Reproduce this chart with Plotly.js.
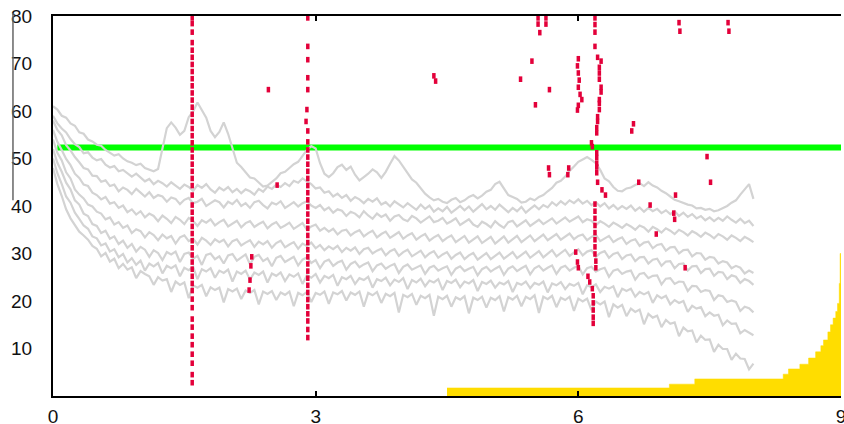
<!DOCTYPE html>
<html>
<head>
<meta charset="utf-8">
<script src="https://cdn.plot.ly/plotly-3.0.1.min.js"></script>
<style>html,body{margin:0;padding:0;background:#fff;}#chart{width:844px;height:424px;}</style>
</head>
<body>
<div id="chart"></div>
<script>
// ---- data ----
var sampleX = [0,0.05,0.1,0.15,0.2,0.25,0.3,0.35,0.4,0.45,0.5,0.55,0.6,0.65,0.7,0.75,0.8,0.85,0.9,0.95,
 1,1.05,1.1,1.15,1.2,1.25,1.3,1.35,1.4,1.45,1.5,1.55,1.6,1.65,1.7,1.75,1.8,1.85,1.9,1.95,
 2,2.05,2.1,2.15,2.2,2.25,2.3,2.35,2.4,2.45,2.5,2.55,2.6,2.65,2.7,2.75,2.8,2.85,2.9,2.95,
 3,3.05,3.1,3.15,3.2,3.25,3.3,3.35,3.4,3.45,3.5,3.55,3.6,3.65,3.7,3.75,3.8,3.85,3.9,3.95,
 4,4.05,4.1,4.15,4.2,4.25,4.3,4.35,4.4,4.45,4.5,4.55,4.6,4.65,4.7,4.75,4.8,4.85,4.9,4.95,
 5,5.05,5.1,5.15,5.2,5.25,5.3,5.35,5.4,5.45,5.5,5.55,5.6,5.65,5.7,5.75,5.8,5.85,5.9,5.95,
 6,6.05,6.1,6.15,6.2,6.25,6.3,6.35,6.4,6.45,6.5,6.55,6.6,6.65,6.7,6.75,6.8,6.85,6.9,6.95,
 7,7.05,7.1,7.15,7.2,7.25,7.3,7.35,7.4,7.45,7.5,7.55,7.6,7.65,7.7,7.75,7.8,7.85,7.9,7.95,
 8];

var gray1 = [61.0,60.3,59.0,58.6,57.4,56.9,55.5,55.2,54.0,53.6,52.9,52.7,51.8,51.2,50.6,50.9,50.0,49.4,49.1,48.6,
 48.9,48.0,47.7,47.3,47.8,52.0,56.4,57.6,56.5,55.0,55.8,58.7,59.9,61.8,60.2,58.6,55.8,54.5,55.6,57.6,
 55.2,52.3,49.1,48.2,47.1,46.0,45.8,44.9,44.1,44.3,45.1,45.8,46.9,47.2,48.0,48.8,49.3,50.6,51.8,52.6,
 52.1,49.0,46.8,46.1,46.9,48.2,48.7,47.6,48.3,46.6,45.4,46.1,46.8,47.7,47.1,45.9,47.2,48.9,50.5,49.6,
 48.2,47.0,45.6,44.9,43.8,42.6,41.8,41.2,41.5,40.9,40.6,41.3,41.7,40.8,41.2,41.9,42.3,41.6,42.2,43.0,
 43.4,44.6,45.1,43.6,42.3,41.9,41.5,40.7,40.9,41.6,41.2,41.9,42.3,43.1,43.8,44.9,45.3,46.2,47.4,48.3,
 49.3,49.8,50.3,49.7,49.0,47.6,45.8,45.2,44.0,43.2,43.1,43.7,43.9,44.4,44.8,44.2,45.0,44.3,43.9,43.2,
 42.7,42.0,41.3,41.0,40.6,40.3,40.1,39.5,39.6,39.2,39.4,38.9,39.1,39.6,40.0,40.7,41.2,42.4,43.4,44.6,
 41.5];
var gray2 = [59.0,57.4,56.3,55.5,54.1,53.0,52.4,51.1,51.3,50.2,49.6,49.9,48.7,48.1,48.4,47.3,47.6,46.9,46.2,46.8,
 46.0,45.2,45.7,44.6,45.3,44.8,44.1,45.0,44.3,43.6,44.5,44.0,43.2,44.4,43.8,44.6,43.5,42.8,43.9,43.3,
 44.0,42.9,43.6,42.7,43.5,43.1,42.4,43.6,43.0,44.1,43.6,44.5,44.0,44.8,44.2,45.3,44.9,45.8,45.2,44.6,
 43.7,43.9,42.8,43.1,42.0,42.6,41.7,42.3,41.1,41.9,41.4,40.6,41.5,40.9,41.6,40.3,40.8,39.9,41.0,40.4,
 39.7,40.6,39.9,39.2,40.3,39.4,40.1,38.8,39.5,38.9,39.8,38.6,39.3,40.0,39.1,39.9,38.8,39.6,40.4,39.3,
 40.0,39.2,40.3,39.5,38.7,39.6,38.9,39.8,38.6,39.4,40.1,39.3,40.2,39.7,40.8,40.1,41.0,40.3,41.2,40.6,
 41.4,40.5,41.1,40.2,40.8,39.9,40.6,39.5,40.2,39.3,40.0,39.4,40.1,39.0,39.7,38.8,39.6,38.9,39.4,38.5,
 39.1,38.3,38.9,37.9,38.6,37.7,38.3,37.4,37.9,37.0,37.6,36.8,37.5,36.9,37.8,37.1,36.5,37.3,36.4,36.9,
 35.8];
var gray3 = [58.0,56.0,54.9,52.8,51.7,50.3,49.2,48.0,47.7,46.4,46.3,45.1,45.4,44.2,44.5,43.1,43.9,43.4,42.5,43.6,
 42.8,42.0,42.9,41.7,42.3,42.0,40.9,41.8,41.5,40.4,41.3,41.7,40.6,40.9,41.5,40.0,40.6,41.2,40.8,39.7,
 40.9,40.4,41.3,40.0,40.6,39.6,40.8,41.1,40.2,39.5,40.7,40.3,41.0,39.6,40.2,40.8,39.9,40.6,41.0,40.1,
 39.6,40.2,39.1,39.7,38.6,39.3,39.0,37.9,38.8,38.4,37.6,38.9,38.0,37.3,38.4,37.7,38.2,36.9,37.8,38.1,
 37.2,36.8,37.9,37.4,36.5,37.2,37.8,36.6,36.9,37.5,36.3,36.8,37.4,36.0,36.6,37.2,36.1,35.6,36.7,36.2,
 35.5,36.8,36.0,35.4,36.6,36.9,35.7,36.3,37.0,35.8,36.4,37.1,36.2,36.9,37.4,36.3,37.0,37.6,36.7,37.3,
 37.8,36.6,37.2,36.9,35.9,36.8,36.3,35.6,36.5,36.0,35.4,36.2,35.7,35.0,35.9,35.5,34.6,35.6,35.1,34.4,
 35.3,34.8,34.1,35.0,34.5,33.8,34.7,34.2,33.5,34.4,33.9,33.2,34.1,33.6,32.9,33.8,33.3,32.6,33.5,33.0,
 32.4];
var gray4 = [56.0,53.5,51.8,49.9,48.6,46.8,45.9,44.5,44.2,42.8,42.3,41.4,41.9,40.5,40.8,39.6,40.1,38.7,39.3,38.2,
 38.9,37.6,38.4,37.9,36.8,38.0,37.3,36.4,37.7,37.1,36.2,37.5,36.9,35.8,37.0,36.5,37.2,35.9,36.6,37.1,
 35.7,36.3,36.9,35.5,36.4,36.8,35.6,36.2,36.7,35.3,36.1,36.6,35.4,35.9,36.5,35.2,35.8,36.4,35.0,35.7,
 36.1,34.8,35.4,34.6,35.2,34.0,34.8,35.0,33.8,34.5,34.9,33.6,34.3,34.8,33.4,34.1,34.6,33.3,33.9,34.5,
 33.1,33.8,34.3,32.9,33.6,34.1,32.7,33.4,33.9,32.6,33.3,33.8,32.4,33.1,33.7,32.3,33.0,33.6,32.2,32.9,
 33.5,32.1,32.9,33.6,32.3,33.0,33.7,32.4,33.2,33.8,32.6,33.3,34.0,32.8,33.5,34.1,32.9,33.6,34.2,33.0,
 33.7,34.0,32.8,33.5,33.9,32.6,33.2,33.7,32.4,33.0,33.4,32.0,32.7,33.0,31.6,32.3,32.5,31.1,31.8,32.0,
 30.6,31.3,31.4,30.0,30.7,30.8,29.4,30.1,30.0,28.7,29.3,29.1,27.9,28.4,28.1,26.9,27.4,27.0,25.8,26.4,
 25.9];
var gray5 = [54.0,51.2,49.6,47.1,45.8,43.5,42.4,41.6,40.3,39.9,38.8,38.4,37.2,37.6,36.1,36.6,35.4,35.9,34.3,35.1,
 34.7,33.4,34.5,33.9,32.8,34.0,33.2,33.7,32.1,33.4,33.8,32.6,33.1,31.9,33.3,32.7,31.8,33.0,32.4,32.9,
 31.5,32.6,33.0,31.7,32.3,32.8,31.4,32.5,31.9,32.6,31.2,32.2,32.7,31.3,31.9,32.4,31.0,32.1,31.6,32.3,
 31.1,31.8,30.7,31.5,30.9,31.6,30.3,31.2,30.6,31.3,29.9,30.9,31.2,30.0,30.6,31.0,29.6,30.5,30.9,29.5,
 30.3,30.8,29.4,30.1,30.6,29.2,30.0,30.5,29.1,29.8,30.3,28.9,29.7,30.2,28.8,29.6,30.1,28.7,29.5,30.1,
 28.8,29.6,30.2,28.9,29.7,30.3,29.0,29.8,30.4,29.1,29.9,30.5,29.2,30.0,30.7,29.4,30.2,30.8,29.5,30.3,
 30.9,29.6,30.4,30.7,29.3,30.1,30.5,29.1,29.9,30.2,28.8,29.6,29.8,28.4,29.2,29.3,27.9,28.7,28.9,27.4,
 28.3,28.4,26.9,27.8,27.9,26.4,27.3,27.4,25.9,26.7,26.8,25.3,26.1,26.0,24.6,25.4,25.1,23.8,24.6,24.2,
 23.4];
var gray6 = [52.0,49.1,47.2,44.9,43.5,41.2,40.3,38.4,37.9,36.2,35.8,34.3,34.8,33.1,33.6,32.0,32.7,31.2,32.0,30.4,
 31.4,30.8,29.3,30.7,30.1,28.6,30.3,29.8,30.4,28.2,29.9,30.2,28.9,29.5,27.6,29.7,30.0,28.8,29.4,27.9,
 29.6,29.9,28.5,29.2,29.8,27.7,29.3,29.7,28.4,29.0,27.3,29.1,29.5,28.2,28.8,29.3,27.5,28.7,29.2,28.0,
 28.6,26.9,28.3,28.7,27.4,28.1,28.5,26.6,27.8,28.3,27.1,27.7,28.1,26.3,27.5,27.9,26.8,27.4,27.8,25.9,
 27.2,27.7,26.6,27.1,27.5,25.7,27.0,27.4,26.4,26.9,27.3,25.5,26.8,27.3,26.3,26.8,27.2,25.4,26.7,27.2,
 26.2,26.8,27.3,25.5,26.8,27.3,26.3,26.9,27.4,25.6,26.9,27.4,26.4,27.0,27.5,25.7,27.0,27.4,26.4,27.0,
 27.4,25.6,26.9,27.2,26.2,26.7,27.0,25.1,26.4,26.7,25.7,26.2,26.4,24.5,25.7,25.9,24.8,25.3,25.4,23.5,
 24.7,24.8,23.6,24.1,24.0,22.1,23.2,23.1,21.9,22.3,22.1,20.2,21.2,21.0,19.8,20.1,19.8,17.9,18.8,18.5,
 17.6];
var gray7 = [50.0,46.9,44.6,42.0,40.7,38.6,37.3,35.9,35.2,33.6,33.2,31.7,32.1,30.4,30.9,29.2,29.9,28.1,29.0,27.6,
 28.5,26.4,27.9,27.3,28.0,25.8,27.4,26.9,27.5,25.2,27.0,26.5,27.2,24.6,26.7,26.2,26.9,24.9,26.4,25.9,
 26.6,24.1,26.2,25.7,26.4,24.5,26.0,25.5,26.2,23.9,25.8,25.3,26.0,24.2,25.6,25.1,25.8,23.6,25.4,24.9,
 25.7,23.9,25.3,24.8,25.5,23.2,25.0,24.6,25.3,23.6,24.8,24.4,25.1,22.8,24.6,24.2,24.9,23.3,24.5,24.0,
 24.8,22.5,24.4,23.9,24.7,23.1,24.3,23.9,24.6,22.3,24.2,23.8,24.5,22.9,24.1,23.7,24.4,22.1,24.0,23.6,
 24.3,22.8,23.9,23.5,24.2,21.9,23.8,23.4,24.1,22.7,23.8,23.4,24.1,21.8,23.7,23.3,24.0,22.5,23.6,23.2,
 23.8,21.4,23.3,22.9,23.5,21.9,23.0,22.6,23.1,20.8,22.6,22.1,22.6,20.9,21.9,21.4,21.9,19.6,21.2,20.6,
 21.1,19.3,20.2,19.6,20.0,17.7,19.0,18.4,18.7,16.8,17.6,16.9,17.1,14.9,15.9,15.2,15.3,13.2,13.9,13.3,
 12.8];
var gray8 = [48.0,44.6,42.1,39.3,37.4,35.9,34.6,33.8,32.9,31.6,31.0,29.4,30.1,28.3,28.9,26.9,27.8,26.6,27.1,24.8,
 26.3,25.7,25.2,23.4,25.0,24.3,24.6,21.9,24.1,23.4,23.9,20.6,23.3,22.8,23.4,21.0,22.9,22.3,22.8,19.7,
 22.5,22.0,22.6,20.4,22.2,21.7,22.3,19.3,22.0,21.5,22.1,20.2,21.8,21.3,22.0,18.9,21.7,21.2,21.9,19.8,
 21.7,21.3,22.0,19.4,21.8,21.4,22.1,20.1,21.8,21.3,22.0,18.8,21.7,21.2,21.9,19.6,21.5,21.0,21.7,17.6,
 21.3,20.8,21.5,19.2,21.1,20.6,21.3,16.9,20.9,20.4,21.1,18.8,20.8,20.3,21.0,17.4,20.7,20.2,20.9,18.6,
 20.7,20.2,21.0,17.8,20.8,20.3,21.1,18.9,20.9,20.4,21.2,17.5,20.9,20.4,21.1,18.7,20.7,20.2,20.9,17.9,
 20.5,19.9,20.5,18.1,19.9,19.3,19.9,16.6,19.3,18.6,19.2,16.8,18.4,17.7,18.2,15.1,17.3,16.5,16.9,14.5,
 16.0,15.2,15.5,12.6,14.4,13.6,13.8,11.3,12.7,11.8,11.9,9.3,10.8,9.9,9.9,7.6,8.9,7.9,7.8,5.6,
 6.8];

var limitX = [0.05, 9];
var limitY = [52.3, 52.3];

var fillX = [4.5, 7.04, 7.33, 8.34, 8.40, 8.53, 8.63, 8.71, 8.77, 8.80, 8.85, 8.88, 8.91, 8.94, 8.96, 8.98, 8.99, 9.0];
var fillY = [1.7, 2.5, 3.6, 4.6, 5.7, 6.7, 8.0, 9.3, 10.6, 11.8, 13.5, 15.0, 16.4, 17.8, 19.5, 23.7, 30.0, 30.0];

var redX = [
 1.59,1.59,1.59,1.59,1.59,1.59,1.59,1.59,1.59,1.59,1.59,1.59,1.59,1.59,1.59,1.59,1.59,1.59,1.59,1.59,1.59,1.59,1.59,1.59,1.59,1.59,1.59,1.59,1.59,1.59,1.59,1.59,1.59,1.59,1.59,1.59,1.59,1.59,1.59,1.59,1.59,1.59,1.59,1.59,1.59,1.59,1.59,1.59,
 2.91,2.91,2.91,2.91,2.91,2.90,2.89,2.91,2.91,2.91,2.91,2.91,2.91,2.91,2.91,2.91,2.91,2.91,2.91,2.91,2.91,2.91,2.91,2.91,2.91,2.91,2.91,2.91,2.91,2.91,2.91,2.91,2.91,2.91,2.91,2.91,
 6.19,6.19,6.19,6.19,6.22,6.26,6.24,6.24,6.24,6.26,6.26,6.24,6.24,6.24,6.22,6.22,6.21,6.21,6.15,6.16,6.21,6.21,6.21,6.21,6.21,6.22,6.27,6.31,6.19,6.19,6.19,6.19,6.19,6.19,6.19,6.19,6.20,6.20,6.11,6.13,6.16,6.17,6.17,6.17,6.17,6.17,
 6.00,5.99,6.00,6.01,6.00,6.02,6.04,6.00,5.99,
 5.54,5.54,5.56,5.63,5.63,
 5.47,5.34,5.67,5.51,6.63,6.61,7.15,7.16,7.71,7.72,7.47,7.51,6.69,5.66,5.67,5.89,5.88,7.11,6.82,7.09,7.10,6.89,7.22,5.97,5.99,6.00,2.46,2.56,2.27,2.26,2.25,2.24,4.35,4.37
];
var redY = [
 79.6,78.4,76.6,74.4,72.8,71.3,69.8,68.3,66.8,65.3,63.8,62.3,60.8,59.3,57.8,56.3,54.8,53.3,51.8,50.3,48.8,47.3,45.8,44.3,42.3,40.2,38.7,37.2,35.7,34.2,32.7,31.2,29.7,28.2,26.7,25.2,23.7,22.2,20.4,18.6,16.2,14.5,12.6,10.8,8.8,6.9,4.5,2.8,
 79.6,73.6,70.8,67.0,64.5,60.3,57.8,55.8,53.5,51.8,50.3,48.8,47.3,45.8,44.3,42.8,41.3,39.8,38.3,36.8,35.3,33.8,32.3,30.8,29.3,27.8,26.3,24.8,23.3,21.8,20.3,18.8,17.3,15.8,14.0,12.3,
 79.6,78.2,76.6,73.6,71.3,70.5,69.2,68.0,66.7,65.0,64.0,62.4,61.6,60.3,58.8,57.8,56.5,55.4,53.3,52.5,51.2,50.2,49.0,48.2,47.0,45.0,43.4,42.3,40.4,38.9,37.4,35.9,34.4,32.9,31.4,29.9,28.4,27.0,25.2,24.0,22.6,21.1,19.6,18.1,16.6,15.3,
 71.0,69.5,68.0,66.5,65.0,63.5,62.4,61.2,60.2,
 79.6,78.3,76.5,79.6,78.3,
 70.5,66.7,64.5,61.3,57.3,55.8,78.6,76.8,78.6,76.8,50.4,45.0,45.0,48.0,46.6,48.0,46.6,42.3,40.2,38.5,37.2,34.1,27.0,30.3,28.2,27.0,64.5,44.4,29.3,27.4,24.4,22.3,67.4,66.3
];

var xTicks = [0, 3, 6, 9];
var yTicks = [10, 20, 30, 40, 50, 60, 70, 80];

// ---- traces ----
var grayColor = '#d3d3d3';
var traces = [];
traces.push({x: limitX, y: limitY, type: 'scatter', mode: 'lines', line: {color: '#00ff00', width: 6}, hoverinfo: 'skip'});
[gray1, gray2, gray3, gray4, gray5, gray6, gray7, gray8].forEach(function (s) {
  traces.push({x: sampleX, y: s, type: 'scatter', mode: 'lines', line: {color: grayColor, width: 2.2}, hoverinfo: 'skip'});
});
traces.push({x: fillX, y: fillY, type: 'scatter', mode: 'lines', line: {shape: 'hv', color: '#ffdd00', width: 0.5}, fill: 'tozeroy', fillcolor: '#ffdd00', hoverinfo: 'skip'});
traces.push({x: redX, y: redY, type: 'scatter', mode: 'markers', marker: {symbol: 'line-ns', size: 4, line: {width: 3.5, color: '#e3003a'}}, hoverinfo: 'skip'});

var tickFont = {family: 'Liberation Sans, Arial, sans-serif', size: 19, color: '#111'};
var layout = {
  width: 844, height: 424,
  margin: {l: 53, r: 3, t: 16, b: 28, pad: 0},
  paper_bgcolor: '#ffffff', plot_bgcolor: '#ffffff',
  showlegend: false,
  xaxis: {range: [0, 9], tickvals: xTicks, ticktext: xTicks.map(String), ticks: 'inside', ticklen: 5, tickwidth: 2, tickcolor: '#000',
          showline: true, linecolor: '#000', linewidth: 2, mirror: 'ticks', showgrid: false, zeroline: false,
          tickfont: tickFont, ticklabelstandoff: 2, ticklabeloverflow: 'allow', fixedrange: true},
  yaxis: {range: [0, 80], tickvals: yTicks, ticktext: yTicks.map(String), ticks: '', showline: true, linecolor: '#000', linewidth: 2,
          showgrid: false, zeroline: false, tickfont: tickFont, ticklabelstandoff: 15, ticklabeloverflow: 'allow', fixedrange: true},
  shapes: [{type: 'line', xref: 'paper', yref: 'paper', x0: -0.0508, x1: -0.0508, y0: 0.515, y1: 1.008, line: {color: '#666', width: 1.5}}]
};
Plotly.newPlot('chart', traces, layout, {displayModeBar: false, staticPlot: true});
</script>
</body>
</html>
